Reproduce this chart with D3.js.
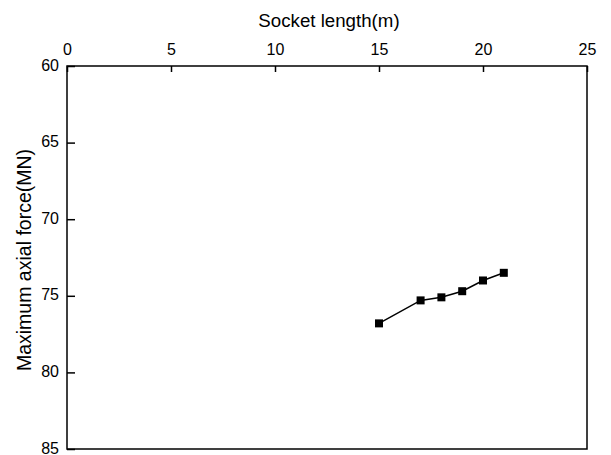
<!DOCTYPE html>
<html>
<head>
<meta charset="utf-8">
<script src="https://cdn.jsdelivr.net/npm/d3@7"></script>
<style>
  body { margin: 0; background: #fff; }
  text { font-family: Arial, "Liberation Sans", sans-serif; }
</style>
</head>
<body>
<svg id="chart" width="611" height="455"></svg>
<script>
// data
const socketLength = [15, 17, 18, 19, 20, 21]
const axialForce = [76.8, 75.3, 75.1, 74.7, 74.0, 73.5]
const xTicks = [0, 5, 10, 15, 20, 25]
const yTicks = [60, 65, 70, 75, 80, 85]

const svg = d3.select("#chart")
const plotL = 67, plotR = 587, plotT = 66, plotB = 449

const x = d3.scaleLinear().domain([0, 25]).range([plotL, plotR])
const y = d3.scaleLinear().domain([60, 85]).range([plotT, plotB])

// frame
svg.append("rect")
    .attr("x", plotL).attr("y", plotT)
    .attr("width", plotR - plotL).attr("height", plotB - plotT)
    .attr("fill", "none").attr("stroke", "#000").attr("stroke-width", 1.5)

// top axis, ticks inward
const xAxis = svg.append("g")
    .attr("transform", `translate(0,${plotT})`)
    .call(d3.axisTop(x).tickValues(xTicks).tickSizeInner(-6).tickSizeOuter(0).tickPadding(11))
xAxis.select(".domain").remove()
xAxis.selectAll("line").attr("stroke-width", 1.5)
xAxis.selectAll("text").attr("font-size", 16).attr("fill", "#000")

// left axis, ticks inward
const yAxis = svg.append("g")
    .attr("transform", `translate(${plotL},0)`)
    .call(d3.axisLeft(y).tickValues(yTicks).tickSizeInner(-8).tickSizeOuter(0).tickPadding(8))
yAxis.select(".domain").remove()
yAxis.selectAll("line").attr("stroke-width", 1.5)
yAxis.selectAll("text")
    .attr("font-size", 16).attr("fill", "#000")
    .attr("dy", null).attr("y", 4)

// axis titles
svg.append("text")
    .attr("x", (plotL + plotR) / 2 + 2).attr("y", 27)
    .attr("text-anchor", "middle").attr("font-size", 18.7)
    .text("Socket length(m)")

svg.append("text")
    .attr("transform", "translate(31,260) rotate(-90)")
    .attr("text-anchor", "middle").attr("font-size", 19.5)
    .text("Maximum axial force(MN)")

// series
const pts = socketLength.map((d, i) => [d, axialForce[i]])
svg.append("path")
    .datum(pts)
    .attr("fill", "none").attr("stroke", "#000").attr("stroke-width", 1.5)
    .attr("d", d3.line().x(d => x(d[0])).y(d => y(d[1])))

const size = 8
svg.selectAll("rect.pt")
    .data(pts)
    .enter()
    .append("rect")
    .attr("class", "pt")
    .attr("x", d => x(d[0]) - size / 2)
    .attr("y", d => y(d[1]) - size / 2)
    .attr("width", size).attr("height", size)
    .attr("fill", "#000")
</script>
</body>
</html>
